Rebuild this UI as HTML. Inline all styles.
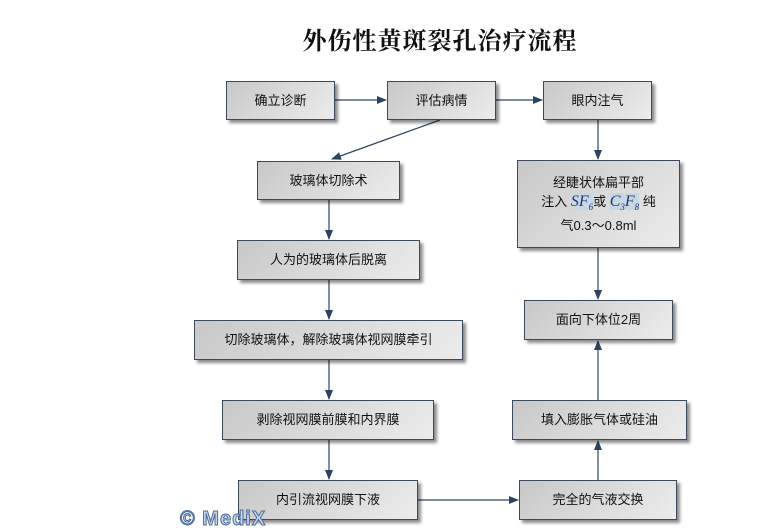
<!DOCTYPE html>
<html><head><meta charset="utf-8"><style>
body{margin:0;width:761px;height:529px;background:#fff;position:relative;overflow:hidden;font-family:"Liberation Sans","Noto Sans CJK SC",sans-serif;}
.t{position:absolute;left:0;width:880px;top:21px;text-align:center;font:bold 24px "Liberation Serif","Noto Serif CJK SC",serif;color:#111;letter-spacing:1px}
.b{position:absolute;box-sizing:border-box;border:1px solid #3a4a5c;background:linear-gradient(135deg,#c8c8c8,#ececec);box-shadow:3px 3px 3px rgba(0,0,0,.45);display:flex;align-items:center;justify-content:center;text-align:center;font-size:13px;color:#111;line-height:18px;}
.hl{background:#c9d6e3;font-family:"Liberation Serif",serif;font-style:italic;font-size:16px;color:#1a3a70;line-height:16px}
svg{position:absolute;left:0;top:0}
.m{position:absolute;left:180px;top:508px;font:bold 20px "Liberation Sans",sans-serif;color:#c8d8ea;-webkit-text-stroke:1px #4a6a9a;letter-spacing:1px}
</style></head><body>
<div class="t">外伤性黄斑裂孔治疗流程</div>
<svg width="761" height="529"><defs><marker id="a" markerWidth="10" markerHeight="8" refX="9" refY="4" orient="auto" markerUnits="userSpaceOnUse"><path d="M0,0L10,4L0,8z" fill="#2d4460"/></marker></defs>
<g stroke="#2d4460" stroke-width="1.2" fill="none" marker-end="url(#a)">
<line x1="335" y1="100" x2="386" y2="100"/><line x1="496" y1="100" x2="542" y2="100"/>
<line x1="440" y1="120" x2="332" y2="159"/>
<line x1="329" y1="200" x2="329" y2="239"/><line x1="329" y1="280" x2="329" y2="319"/>
<line x1="329" y1="360" x2="329" y2="399"/><line x1="329" y1="440" x2="329" y2="479"/>
<line x1="418" y1="500" x2="518" y2="500"/>
<line x1="598" y1="120" x2="598" y2="159"/><line x1="598" y1="248" x2="598" y2="299"/>
<line x1="598" y1="400" x2="598" y2="341"/><line x1="598" y1="480" x2="598" y2="441"/>
</g></svg>
<div class="b" style="left:226px;top:81px;width:109px;height:39px">确立诊断</div>
<div class="b" style="left:387px;top:81px;width:109px;height:39px">评估病情</div>
<div class="b" style="left:543px;top:81px;width:109px;height:39px">眼内注气</div>
<div class="b" style="left:257px;top:161px;width:143px;height:39px">玻璃体切除术</div>
<div class="b" style="left:237px;top:240px;width:183px;height:40px">人为的玻璃体后脱离</div>
<div class="b" style="left:194px;top:320px;width:269px;height:40px">切除玻璃体，解除玻璃体视网膜牵引</div>
<div class="b" style="left:222px;top:400px;width:212px;height:40px">剥除视网膜前膜和内界膜</div>
<div class="b" style="left:238px;top:480px;width:180px;height:40px">内引流视网膜下液</div>
<div class="b" style="left:519px;top:480px;width:158px;height:40px">完全的气液交换</div>
<div class="b" style="left:512px;top:400px;width:175px;height:40px">填入膨胀气体或硅油</div>
<div class="b" style="left:524px;top:300px;width:149px;height:40px">面向下体位2周</div>
<div class="b" style="left:517px;top:160px;width:163px;height:88px"><div style="line-height:19px">经睫状体扁平部<br>注入 <span class="hl">SF<sub style="font-size:9px">6</sub></span>或 <span class="hl">C<sub style="font-size:9px">3</sub>F<sub style="font-size:9px">8</sub></span> 纯<br>气0.3～0.8ml</div></div>
<div class="m">© MediX</div>
</body></html>
